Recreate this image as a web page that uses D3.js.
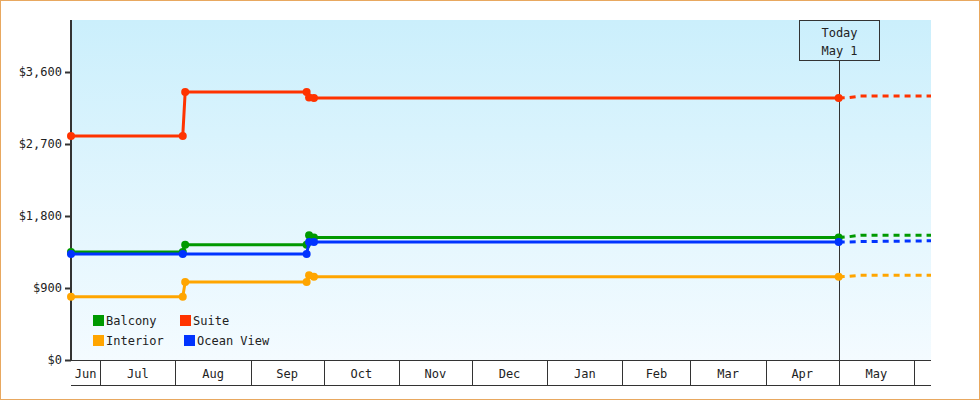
<!DOCTYPE html>
<html><head><meta charset="utf-8">
<script src="https://cdn.jsdelivr.net/npm/d3@7"></script>
<style>body{margin:0;background:#fff}text{font-family:"DejaVu Sans Mono",monospace;font-size:12px;fill:#222}</style>
</head><body><svg width="980" height="400"></svg>
<script>
const seriesNames = ["Balcony", "Suite", "Interior", "Ocean View"];
const colors = ["#009900", "#ff3300", "#ffa500", "#0033ff"];
const balcony = [["2022-06-19",1350],["2022-08-04",1350],["2022-08-05",1440],["2022-09-24",1440],["2022-09-25",1560],["2022-09-27",1530],["2023-05-01",1530]];
const suite = [["2022-06-19",2800],["2022-08-04",2800],["2022-08-05",3350],["2022-09-24",3350],["2022-09-25",3280],["2022-09-27",3275],["2023-05-01",3275]];
const interior = [["2022-06-19",790],["2022-08-04",790],["2022-08-05",975],["2022-09-24",975],["2022-09-25",1060],["2022-09-27",1040],["2023-05-01",1040]];
const ocean = [["2022-06-19",1325],["2022-08-04",1325],["2022-08-05",1325],["2022-09-24",1325],["2022-09-25",1475],["2022-09-27",1475],["2023-05-01",1475]];
const forecast = [[["2023-05-01",1530],["2023-05-05",1540],["2023-05-10",1560],["2023-06-08",1560]],
                  [["2023-05-01",3275],["2023-05-05",3280],["2023-05-10",3300],["2023-06-08",3300]],
                  [["2023-05-01",1040],["2023-05-05",1045],["2023-05-10",1060],["2023-06-08",1060]],
                  [["2023-05-01",1475],["2023-05-05",1475],["2023-05-10",1480],["2023-06-08",1490]]];
const yTicks = [0, 900, 1800, 2700, 3600];
const monthStarts = ["2022-06-01","2022-07-01","2022-08-01","2022-09-01","2022-10-01","2022-11-01","2022-12-01","2023-01-01","2023-02-01","2023-03-01","2023-04-01","2023-05-01","2023-06-01","2023-07-01"];
const today = "2023-05-01";

const parse = d3.timeParse("%Y-%m-%d");
const svg = d3.select("svg");
const pLeft = 71, pRight = 931, pTop = 20, pBottom = 360;
const x = d3.scaleTime().domain([parse("2022-06-19"), parse("2023-06-08")]).range([pLeft, pRight]);
const y = d3.scaleLinear().domain([0, 4250]).range([pBottom, pTop]);

svg.append("rect").attr("x",0.5).attr("y",0.5).attr("width",979).attr("height",399)
  .attr("fill","#fff").attr("stroke","#e8a860");
const grad = svg.append("defs").append("linearGradient").attr("id","bg").attr("x1",0).attr("x2",0).attr("y1",0).attr("y2",1);
grad.append("stop").attr("offset","0").attr("stop-color","#cbeffc");
grad.append("stop").attr("offset","1").attr("stop-color","#f4fbff");
svg.append("rect").attr("x",pLeft).attr("y",pTop).attr("width",pRight-pLeft).attr("height",pBottom-pTop).attr("fill","url(#bg)");

// y axis
const ya = svg.append("g").attr("transform","translate("+pLeft+",0)")
  .call(d3.axisLeft(y).tickValues(yTicks).tickSize(6).tickFormat(d => "$" + d3.format(",")(d)));
ya.select(".domain").attr("d","M0,"+pTop+"V"+pBottom).attr("stroke","#333").attr("stroke-width",2);
ya.selectAll(".tick line").attr("stroke","#333").attr("stroke-width",2);
ya.selectAll("text").attr("font-family","DejaVu Sans Mono").attr("font-size",12).attr("fill","#333");

// x axis month boxes
const xa = svg.append("g");
xa.append("line").attr("x1",pLeft).attr("x2",pRight).attr("y1",pBottom+0.5).attr("y2",pBottom+0.5).attr("stroke","#333");
xa.append("line").attr("x1",pLeft).attr("x2",pRight).attr("y1",385.5).attr("y2",385.5).attr("stroke","#333");
const ms = monthStarts.map(parse);
ms.forEach((d,i) => {
  if (i === ms.length-1) return;
  const a = Math.max(pLeft, x(d)), b = Math.min(pRight, x(ms[i+1]));
  if (b <= a) return;
  if (x(d) > pLeft) xa.append("line").attr("x1",Math.round(a)+0.5).attr("x2",Math.round(a)+0.5).attr("y1",pBottom).attr("y2",385).attr("stroke","#333");
  if (b - a > 20) xa.append("text").attr("x",(a+b)/2).attr("y",378).attr("text-anchor","middle").text(d3.timeFormat("%b")(d));
});

// today line
const tx = Math.round(x(parse(today))) + 0.5;
svg.append("line").attr("x1",tx).attr("x2",tx).attr("y1",60).attr("y2",pBottom).attr("stroke","#333");
svg.append("rect").attr("x",tx-40).attr("y",20.5).attr("width",80).attr("height",40).attr("fill","none").attr("stroke","#333");
svg.append("text").attr("x",tx).attr("y",37).attr("text-anchor","middle").text("Today");
svg.append("text").attr("x",tx).attr("y",55).attr("text-anchor","middle").text("May 1");

const line = d3.line().x(d => x(parse(d[0]))).y(d => y(d[1]));
const all = [balcony, suite, interior, ocean];
all.forEach((s,i) => {
  svg.append("path").attr("d", line(forecast[i])).attr("fill","none").attr("stroke",colors[i])
    .attr("stroke-width",3).attr("stroke-dasharray","6,5");
});
all.forEach((s,i) => {
  svg.append("path").attr("d", line(s)).attr("fill","none").attr("stroke",colors[i]).attr("stroke-width",3);
  svg.selectAll(null).data(s.filter((d,j) => j !== 2 || i !== 3)).enter().append("circle")
    .attr("cx", d => x(parse(d[0]))).attr("cy", d => y(d[1])).attr("r",4).attr("fill",colors[i]);
});

// legend
const lg = svg.append("g");
const pos = [[93,320],[180,320],[93,340],[184,340]];
seriesNames.forEach((n,i) => {
  lg.append("rect").attr("x",pos[i][0]).attr("y",pos[i][1]-5).attr("width",11).attr("height",11).attr("fill",colors[i]);
  lg.append("text").attr("x",pos[i][0]+13).attr("y",pos[i][1]+5).text(n);
});
</script></body></html>
